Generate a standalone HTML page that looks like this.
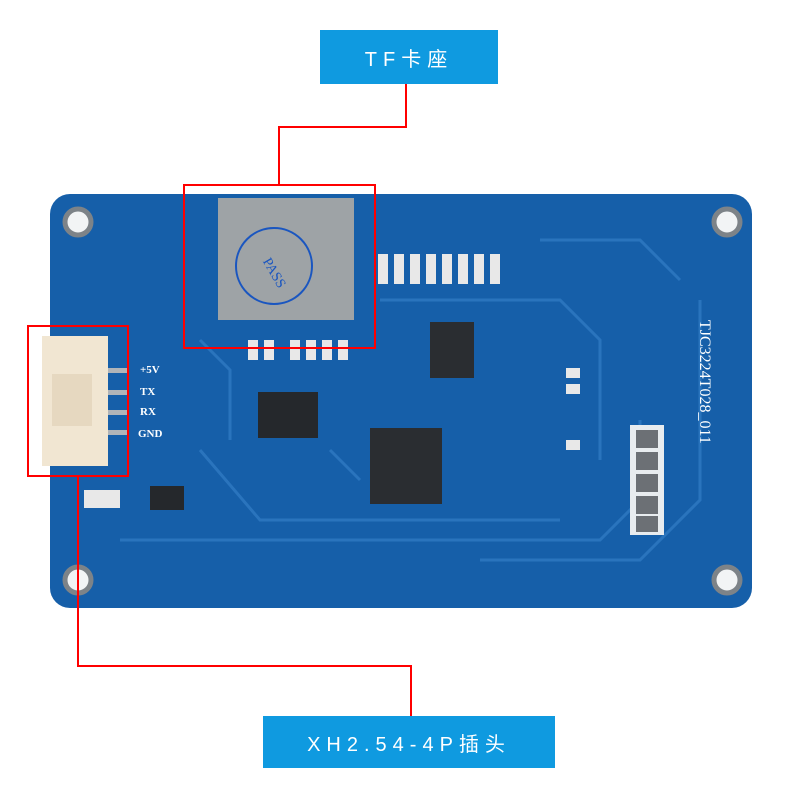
<!DOCTYPE html>
<html><head><meta charset="utf-8"><style>
body{margin:0;background:#fff;width:800px;height:800px;overflow:hidden;font-family:"Liberation Sans","Noto Sans CJK SC",sans-serif}
.lbl{position:absolute;background:#0f9ae0;color:#fff;font-size:20px;letter-spacing:6px;display:flex;align-items:center;justify-content:center}
</style></head><body>
<svg width="800" height="800" style="position:absolute;left:0;top:0">
<rect x="50" y="194" width="702" height="414" rx="20" fill="#165fa9"/>
<g fill="none" stroke="#2a74bd" stroke-width="3">
<path d="M120 540 H600 L640 500 V420"/><path d="M200 450 L260 520 H560"/><path d="M380 300 H560 L600 340 V460"/><path d="M480 560 H640 L700 500 V300"/><path d="M540 240 H640 L680 280"/><path d="M200 340 L230 370 V440"/><path d="M330 450 L360 480"/>
</g>
<g fill="#f2f4f5" stroke="#7d8388" stroke-width="5">
<circle cx="78" cy="222" r="13"/><circle cx="727" cy="222" r="13"/><circle cx="78" cy="580" r="13"/><circle cx="727" cy="580" r="13"/>
</g>
<rect x="218" y="198" width="136" height="122" fill="#9ea3a6"/>
<circle cx="274" cy="266" r="38" fill="none" stroke="#1a56c0" stroke-width="2"/>
<text x="262" y="270" font-size="14" fill="#1a56c0" font-family="Liberation Serif" transform="rotate(60 270 266)">PASS</text>
<rect x="42" y="336" width="66" height="130" fill="#f1e6d2"/>
<rect x="52" y="374" width="40" height="52" fill="#e6d8c0"/>
<g fill="#b0b4b8"><rect x="108" y="368" width="20" height="5"/><rect x="108" y="390" width="20" height="5"/><rect x="108" y="410" width="20" height="5"/><rect x="108" y="430" width="20" height="5"/></g>
<g fill="#fff" font-size="11" font-family="Liberation Serif" font-weight="bold"><text x="140" y="373">+5V</text><text x="140" y="395">TX</text><text x="140" y="415">RX</text><text x="138" y="437">GND</text></g>
<rect x="258" y="392" width="60" height="46" fill="#25282c"/>
<rect x="370" y="428" width="72" height="76" fill="#2a2d31"/>
<rect x="430" y="322" width="44" height="56" fill="#2a2d31"/>
<rect x="150" y="486" width="34" height="24" fill="#25282c"/>
<rect x="630" y="425" width="34" height="110" fill="#e8ecef"/>
<g fill="#6c7075"><rect x="636" y="430" width="22" height="18"/><rect x="636" y="452" width="22" height="18"/><rect x="636" y="474" width="22" height="18"/><rect x="636" y="496" width="22" height="18"/><rect x="636" y="516" width="22" height="16"/></g>
<g fill="#e8e8e8"><rect x="378" y="254" width="10" height="30"/><rect x="394" y="254" width="10" height="30"/><rect x="410" y="254" width="10" height="30"/><rect x="426" y="254" width="10" height="30"/><rect x="442" y="254" width="10" height="30"/><rect x="458" y="254" width="10" height="30"/><rect x="474" y="254" width="10" height="30"/><rect x="490" y="254" width="10" height="30"/>
<rect x="248" y="340" width="10" height="20"/><rect x="264" y="340" width="10" height="20"/><rect x="290" y="340" width="10" height="20"/><rect x="306" y="340" width="10" height="20"/><rect x="322" y="340" width="10" height="20"/><rect x="338" y="340" width="10" height="20"/>
<rect x="566" y="368" width="14" height="10"/><rect x="566" y="384" width="14" height="10"/><rect x="566" y="440" width="14" height="10"/><rect x="84" y="490" width="36" height="18"/></g>
<text x="700" y="320" font-size="16" fill="#fff" font-family="Liberation Serif" transform="rotate(90 700 320)">TJC3224T028_011</text>
<g fill="none" stroke="#f00" stroke-width="2">
<path d="M406 84 V127 H279 V185"/><rect x="184" y="185" width="191" height="163"/>
<rect x="28" y="326" width="100" height="150"/><path d="M78 476 V666 H411 V716"/>
</g>
</svg>
<div class="lbl" style="left:320px;top:30px;width:178px;height:54px">TF卡座</div>
<div class="lbl" style="left:263px;top:716px;width:292px;height:52px">XH2.54-4P插头</div>
</body></html>
